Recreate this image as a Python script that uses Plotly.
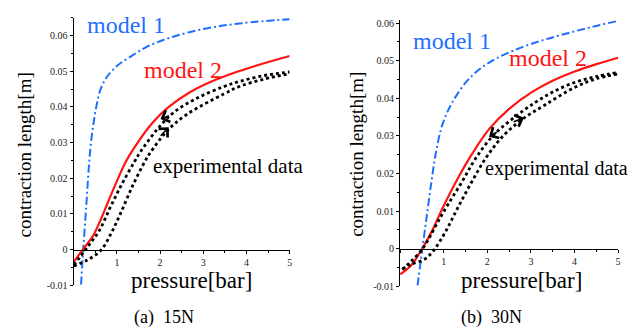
import plotly.graph_objects as go

# ---------------- data ----------------
# (a) 15N
m1_x_a = [0.17, 0.22, 0.29, 0.35, 0.40, 0.46, 0.53, 0.63, 0.78, 1.0, 1.3, 1.7, 2.3, 3.1, 3.9, 5.0]
m1_y_a = [-0.0098, 0.0, 0.012, 0.023, 0.030, 0.0355, 0.0405, 0.0452, 0.0486, 0.0515, 0.054, 0.0569, 0.0597, 0.0621, 0.0635, 0.0646]
m2_x_a = [0.0, 0.21, 0.44, 0.63, 0.8, 1.0, 1.2, 1.4, 1.8, 2.2, 2.7, 3.3, 4.2, 5.0]
m2_y_a = [-0.0035, 0.0, 0.0037, 0.0085, 0.0135, 0.0192, 0.0245, 0.0285, 0.0352, 0.0400, 0.0442, 0.0477, 0.0515, 0.0543]
up_x_a = [0.0, 0.32, 0.59, 0.86, 1.13, 1.40, 1.55, 1.94, 2.32, 2.86, 3.47, 3.85, 4.4, 5.0]
up_y_a = [-0.0043, 0.0007, 0.0053, 0.0122, 0.0187, 0.0245, 0.0275, 0.0338, 0.0385, 0.0425, 0.0457, 0.0472, 0.0488, 0.0498]
lo_x_a = [0.0, 0.32, 0.63, 0.86, 1.09, 1.36, 1.67, 1.78, 2.17, 2.63, 3.47, 3.85, 4.4, 5.0]
lo_y_a = [-0.0046, -0.0029, -0.0002, 0.0044, 0.0103, 0.0178, 0.0252, 0.0273, 0.0334, 0.038, 0.0436, 0.0458, 0.0478, 0.0493]

# (b) 30N
m1_x_b = [0.40, 0.51, 0.62, 0.72, 0.82, 0.97, 1.2, 1.58, 2.04, 2.6, 3.2, 3.8, 4.4, 5.0]
m1_y_b = [-0.0098, 0.0, 0.0095, 0.018, 0.0255, 0.033, 0.039, 0.0452, 0.0495, 0.0527, 0.0552, 0.0572, 0.059, 0.0606]
m2_x_b = [0.0, 0.24, 0.47, 0.7, 1.0, 1.3, 1.65, 2.04, 2.5, 3.03, 3.52, 4.02, 4.5, 5.0]
m2_y_b = [-0.0068, -0.0046, -0.0007, 0.0040, 0.0114, 0.0182, 0.0252, 0.0318, 0.0372, 0.0417, 0.0448, 0.0472, 0.0491, 0.0508]
up_x_b = [0.05, 0.24, 0.47, 0.65, 0.85, 1.1, 1.43, 1.73, 2.15, 2.65, 3.1, 3.52, 4.02, 4.5, 5.0]
up_y_b = [-0.0055, -0.0035, -0.0007, 0.0025, 0.0068, 0.0118, 0.0180, 0.0240, 0.0303, 0.0352, 0.0389, 0.0418, 0.0443, 0.0458, 0.0469]
lo_x_b = [0.05, 0.24, 0.55, 0.78, 1.04, 1.31, 1.62, 1.96, 2.34, 2.8, 3.33, 4.02, 4.5, 5.0]
lo_y_b = [-0.0055, -0.0042, -0.0029, -0.0003, 0.0045, 0.0106, 0.0173, 0.0240, 0.0297, 0.0344, 0.0383, 0.043, 0.0452, 0.0465]

x_tickvals = [0, 1, 2, 3, 4, 5]
x_ticktext = ["", "1", "2", "3", "4", "5"]
y_tickvals = [-0.01, 0, 0.01, 0.02, 0.03, 0.04, 0.05, 0.06]
y_ticktext = ["-0.01", "0", "0.01", "0.02", "0.03", "0.04", "0.05", "0.06"]

# ---------------- styling ----------------
W, H = 637, 335
SERIF = "Liberation Serif"
BLUE = "#1f6fff"
RED = "#ff1414"

xr = [0, 5]
yr_a = [-0.01, 0.065]
yr_b = [-0.01, 0.0609]
xd_a = [66 / W, 283 / W]
xd_b = [394 / W, 613 / W]
yd_a = [1 - 282 / H, 1 - 8 / H]
yd_b = [1 - 283 / H, 1 - 10 / H]


def zero_pos(dom, rng):
    return dom[0] + (0 - rng[0]) / (rng[1] - rng[0]) * (dom[1] - dom[0])


fig = go.Figure()


def add_panel(xa, ya, m1x, m1y, m2x, m2y, upx, upy, lox, loy):
    fig.add_trace(go.Scatter(x=m1x, y=m1y, mode="lines", xaxis=xa, yaxis=ya,
                             line=dict(color=BLUE, width=2, dash="8px,3px,2px,3px", shape="spline", smoothing=1.0)))
    fig.add_trace(go.Scatter(x=m2x, y=m2y, mode="lines", xaxis=xa, yaxis=ya,
                             line=dict(color=RED, width=2.2, shape="spline", smoothing=1.0)))
    for px_, py_ in ((upx, upy), (lox, loy)):
        fig.add_trace(go.Scatter(x=px_, y=py_, mode="lines", xaxis=xa, yaxis=ya,
                                 line=dict(color="black", width=2.8, dash="3px,3px", shape="spline", smoothing=1.0)))


add_panel("x", "y", m1_x_a, m1_y_a, m2_x_a, m2_y_a, up_x_a, up_y_a, lo_x_a, lo_y_a)
add_panel("x2", "y2", m1_x_b, m1_y_b, m2_x_b, m2_y_b, up_x_b, up_y_b, lo_x_b, lo_y_b)

tickfont = dict(family=SERIF, size=10, color="#222")


def xaxis(dom, pos):
    return dict(domain=dom, range=xr, anchor="free", position=pos, showgrid=False, zeroline=False,
                showline=True, linecolor="black", linewidth=1.2, ticks="outside", ticklen=3,
                tickcolor="black", tickmode="array", tickvals=x_tickvals, ticktext=x_ticktext,
                tickfont=tickfont,
                minor=dict(tickmode="linear", tick0=0, dtick=0.5, ticks="outside", ticklen=2, tickcolor="black"))


def yaxis(dom, rng, anchor):
    return dict(domain=dom, range=rng, anchor=anchor, showgrid=False, zeroline=False,
                showline=True, linecolor="black", linewidth=1.2, ticks="outside", ticklen=3,
                tickcolor="black", tickmode="array", tickvals=y_tickvals, ticktext=y_ticktext,
                tickfont=tickfont,
                minor=dict(tickmode="linear", tick0=0, dtick=0.005, ticks="outside", ticklen=2, tickcolor="black"))


fig.update_layout(
    width=W, height=H, margin=dict(l=0, r=0, t=0, b=0),
    paper_bgcolor="white", plot_bgcolor="white", showlegend=False,
    font=dict(family=SERIF),
    xaxis=xaxis(xd_a, zero_pos(yd_a, yr_a)),
    yaxis=yaxis(yd_a, yr_a, "x"),
    xaxis2=xaxis(xd_b, zero_pos(yd_b, yr_b)),
    yaxis2=yaxis(yd_b, yr_b, "x2"),
)

ann = []


def txt(text, x, y, xref, yref, size, color="black", angle=0):
    ann.append(dict(text=text, x=x, y=y, xref=xref, yref=yref, showarrow=False,
                    xanchor="center", yanchor="middle", textangle=angle,
                    font=dict(family=SERIF, size=size, color=color)))


def arrow(x, y, ax, ay, xref, yref):
    ann.append(dict(text="", x=x, y=y, ax=ax, ay=ay, xref=xref, yref=yref, axref=xref, ayref=yref,
                    showarrow=True, arrowhead=4, arrowsize=1.5, arrowwidth=1.6, arrowcolor="black", standoff=0))


# panel (a)
txt("model 1", 1.2, 0.0629, "x", "y", 24, BLUE)
txt("model 2", 2.53, 0.0504, "x", "y", 24, RED)
txt("experimental data", 3.59, 0.0234, "x", "y", 21)
arrow(2.01, 0.0366, 2.24, 0.0377, "x", "y")
arrow(2.2, 0.0343, 1.98, 0.0315, "x", "y")
# panel (b)
txt("model 1", 1.2, 0.0553, "x2", "y2", 24, BLUE)
txt("model 2", 3.39, 0.0508, "x2", "y2", 24, RED)
txt("experimental data", 3.58, 0.0213, "x2", "y2", 20)
arrow(2.04, 0.0298, 2.25, 0.0312, "x2", "y2")
arrow(2.84, 0.0348, 2.57, 0.0336, "x2", "y2")

# axis titles and captions
txt("pressure[bar]", 184 / W, 1 - 277 / H, "paper", "paper", 23)
txt("pressure[bar]", 516 / W, 1 - 277 / H, "paper", "paper", 23)
txt("contraction length[m]", 17 / W, 1 - 148 / H, "paper", "paper", 19, angle=-90)
txt("contraction length[m]", 350 / W, 1 - 148 / H, "paper", "paper", 19, angle=-90)
txt("(a)&nbsp; 15N", 157 / W, 1 - 315 / H, "paper", "paper", 18)
txt("(b)&nbsp; 30N", 486 / W, 1 - 315 / H, "paper", "paper", 18)

fig.update_layout(annotations=ann)
fig.write_html("out.html")
